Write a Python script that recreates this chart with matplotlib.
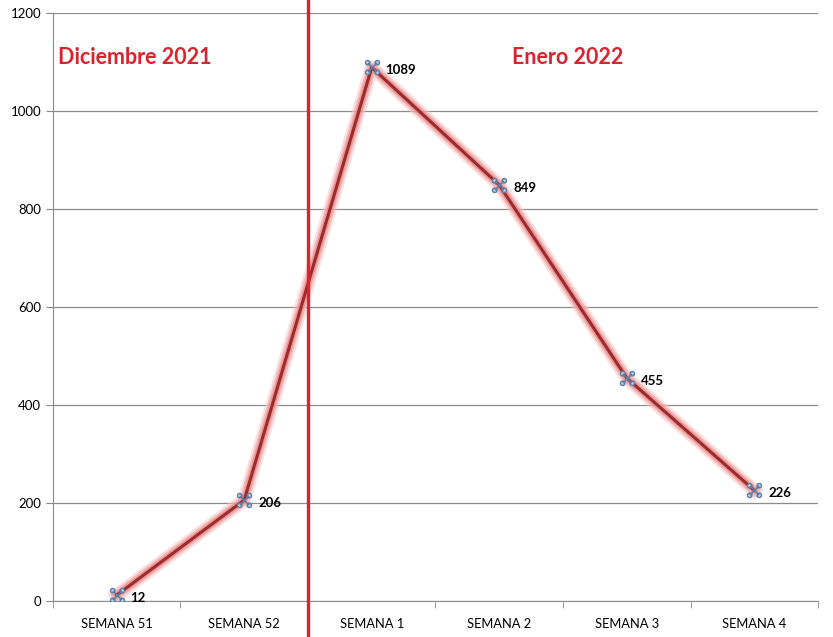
import matplotlib
matplotlib.use("Agg")
import matplotlib.pyplot as plt
import matplotlib.patheffects as pe
from matplotlib.path import Path
import numpy as np

# datos
semanas = ["SEMANA 51", "SEMANA 52", "SEMANA 1", "SEMANA 2", "SEMANA 3", "SEMANA 4"]
casos = [12, 206, 1089, 849, 455, 226]
meses = ["Diciembre 2021", "Enero 2022"]

plt.rcParams['font.family'] = ['Lato', 'DejaVu Sans']

fig = plt.figure(figsize=(8.33, 6.37), dpi=100)
ax = fig.add_axes([0.0636, 0.0565, 0.9184, 0.9231])

x = np.arange(len(semanas))

# marcador: cuatro circulitos en las esquinas + una x
circ = Path.unit_circle()
piezas = []
for dx, dy in [(-1, -1), (1, -1), (-1, 1), (1, 1)]:
    v = circ.vertices * 0.45 + [dx, dy]
    piezas.append(Path(v, circ.codes))
piezas.append(Path([(-1, -1), (1, 1), (-1, 1), (1, -1)],
                   [Path.MOVETO, Path.LINETO, Path.MOVETO, Path.LINETO]))
marca = Path.make_compound_path(*piezas)

# linea con halo rosado
ax.plot(x, casos, color="#9e2a2b", linewidth=2.2, zorder=3,
        path_effects=[pe.Stroke(linewidth=10, foreground="#f7c6c6", alpha=0.5),
                      pe.Stroke(linewidth=7, foreground="#f0a3a3", alpha=0.6),
                      pe.Stroke(linewidth=4.5, foreground="#e07f7f", alpha=0.6),
                      pe.Normal()])
ax.plot(x, casos, linestyle="none", marker=marca, markersize=10,
        markerfacecolor="#dbe6f2", markeredgecolor="#5a7ea6",
        markeredgewidth=1.1, zorder=4)

for xi, v in zip(x, casos):
    ax.annotate(str(v), (xi, v), xytext=(10, -2), textcoords="offset points",
                fontsize=9.5, fontweight="bold", color="black", va="center", ha="left")

# linea roja de separacion de meses
ax.axvline(1.5, ymin=-0.07, ymax=1.03, color="#d9232e", linewidth=2.4,
           clip_on=False, zorder=5)

ax.text(-0.46, 1110, meses[0], color="#d9232e", fontsize=15.5, fontweight="bold",
        va="center", ha="left")
ax.text(3.1, 1110, meses[1], color="#d9232e", fontsize=15.5, fontweight="bold",
        va="center", ha="left")

ax.set_xlim(-0.5, len(semanas) - 0.5)
ax.set_ylim(0, 1200)
ax.set_yticks(range(0, 1201, 200))
ax.set_xticks(x)
ax.set_xticklabels(semanas, fontsize=9.3)
ax.set_xticks(np.arange(-0.5, len(semanas), 1), minor=True)
ax.tick_params(axis="x", which="major", length=0, pad=12)
ax.tick_params(axis="x", which="minor", length=5, color="#888888")
ax.tick_params(axis="y", length=5, color="#888888", labelsize=9.5)

ax.grid(axis="y", color="#8c8c8c", linewidth=0.9)
ax.set_axisbelow(True)
for s in ["top", "right"]:
    ax.spines[s].set_visible(False)
for s in ["left", "bottom"]:
    ax.spines[s].set_color("#8c8c8c")

plt.savefig("out.png", dpi=100)
